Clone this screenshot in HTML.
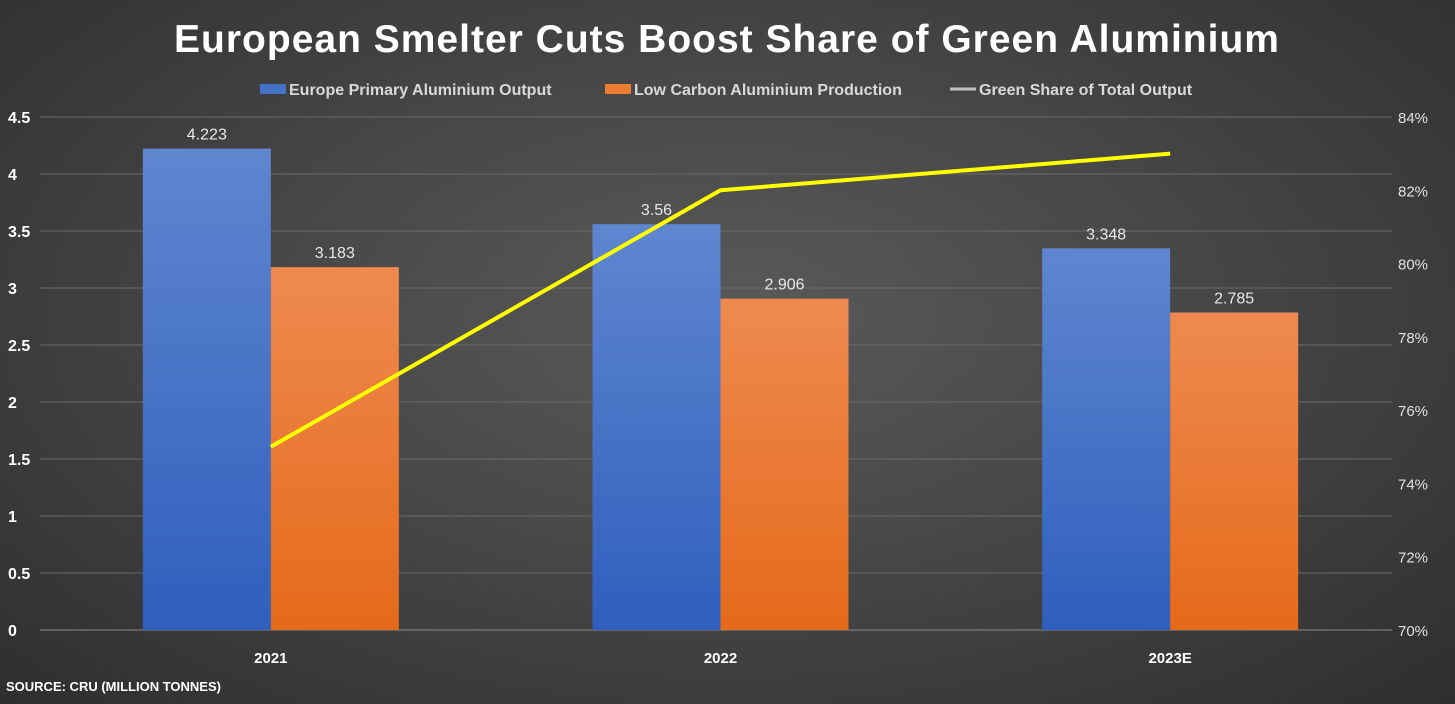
<!DOCTYPE html>
<html><head><meta charset="utf-8"><style>
html,body{margin:0;padding:0;}
body{width:1455px;height:704px;overflow:hidden;background:radial-gradient(ellipse at 50% 45%,#5a5a5a 0%,#474747 45%,#2e2e2e 100%);font-family:"Liberation Sans",sans-serif;}
svg{position:absolute;left:0;top:0;}
</style></head><body>
<svg id="chart" width="1455" height="704">
<defs>
<linearGradient id="gb" x1="0" y1="0" x2="0" y2="1"><stop offset="0" stop-color="#5f86cf"/><stop offset="1" stop-color="#2f5fbd"/></linearGradient>
<linearGradient id="go" x1="0" y1="0" x2="0" y2="1"><stop offset="0" stop-color="#ee8a50"/><stop offset="1" stop-color="#e56a1a"/></linearGradient>
</defs>
<text x="727" y="52" text-anchor="middle" font-size="39" font-weight="bold" fill="#ffffff" letter-spacing="1">European Smelter Cuts Boost Share of Green Aluminium</text>
<g>
<rect x="260" y="84" width="26" height="10" fill="#4472c4"/>
<text x="289" y="95" font-size="16" font-weight="bold" fill="#d9d9d9">Europe Primary Aluminium Output</text>
<rect x="605" y="84" width="26" height="10" fill="#ed7d31"/>
<text x="634" y="95" font-size="16" font-weight="bold" fill="#d9d9d9">Low Carbon Aluminium Production</text>
<line x1="950" y1="89" x2="976" y2="89" stroke="#bfbfbf" stroke-width="3"/>
<text x="979" y="95" font-size="16" font-weight="bold" fill="#d9d9d9">Green Share of Total Output</text>
</g>
<g id="grid"></g><g id="bars"></g><g id="line"></g><g id="axes"></g>
<text x="6" y="691" font-size="13" font-weight="bold" fill="#ffffff">SOURCE: CRU (MILLION TONNES)</text>
</svg>
<script>
const categories=["2021","2022","2023E"];
const europeOutput=[4.223,3.56,3.348];
const lowCarbon=[3.183,2.906,2.785];
const greenShare=[75,82,83];
const leftTicks=[0,0.5,1,1.5,2,2.5,3,3.5,4,4.5];
const rightTicks=[70,72,74,76,78,80,82,84];
const NS="http://www.w3.org/2000/svg";
const X0=46,X1=1395,Y0=630,Y1=117;
const yL=v=>Y0-(v-0)/4.5*(Y0-Y1);
const yR=v=>Y0-(v-70)/14*(Y0-Y1);
const band=(X1-X0)/categories.length;
const xc=i=>X0+band*(i+0.5);
const bw=128;
function mk(t,a,p){const e=document.createElementNS(NS,t);for(const k in a)e.setAttribute(k,a[k]);p.appendChild(e);return e;}
const grid=document.getElementById('grid'),bars=document.getElementById('bars'),line=document.getElementById('line'),axes=document.getElementById('axes');
leftTicks.forEach(v=>{
 const g=mk('line',{x1:40,x2:1392,y1:yL(v),y2:yL(v),stroke:v===0?'#8a8a8a':'#6a6a6a','stroke-width':1},grid);
 
 
 const t=mk('text',{x:8,y:yL(v)+6,'font-size':16,fill:'#ffffff','font-weight':'bold'},axes);
 t.textContent=v;
 
 
});
rightTicks.forEach(v=>{
 const t=mk('text',{x:1398,y:yR(v)+6,'font-size':15,fill:'#e0e0e0'},axes);
 t.textContent=v+'%';
 
 
});
categories.forEach((c,i)=>{
 const cx=xc(i);
 const b=mk('rect',{x:cx-bw,y:yL(europeOutput[i]),width:bw,height:Y0-yL(europeOutput[i]),fill:'url(#gb)'},bars);
 
 
 const o=mk('rect',{x:cx,y:yL(lowCarbon[i]),width:bw,height:Y0-yL(lowCarbon[i]),fill:'url(#go)'},bars);
 
 
 const l1=mk('text',{x:cx-bw/2,y:yL(europeOutput[i])-9,'font-size':16,fill:'#e8e8e8','text-anchor':'middle'},bars);
 l1.textContent=europeOutput[i];
 
 
 const l2=mk('text',{x:cx+bw/2,y:yL(lowCarbon[i])-9,'font-size':16,fill:'#e8e8e8','text-anchor':'middle'},bars);
 l2.textContent=lowCarbon[i];
 
 
 const ct=mk('text',{x:cx,y:663,'font-size':15,'font-weight':'bold',fill:'#ffffff','text-anchor':'middle'},axes);
 ct.textContent=c;
 
 
});
const pts=greenShare.map((v,i)=>xc(i)+','+yR(v)).join(' ');
const pl=mk('polyline',{points:pts,fill:'none',stroke:'#ffff00','stroke-width':4,'stroke-linejoin':'round'},line);


</script>
</body></html>
